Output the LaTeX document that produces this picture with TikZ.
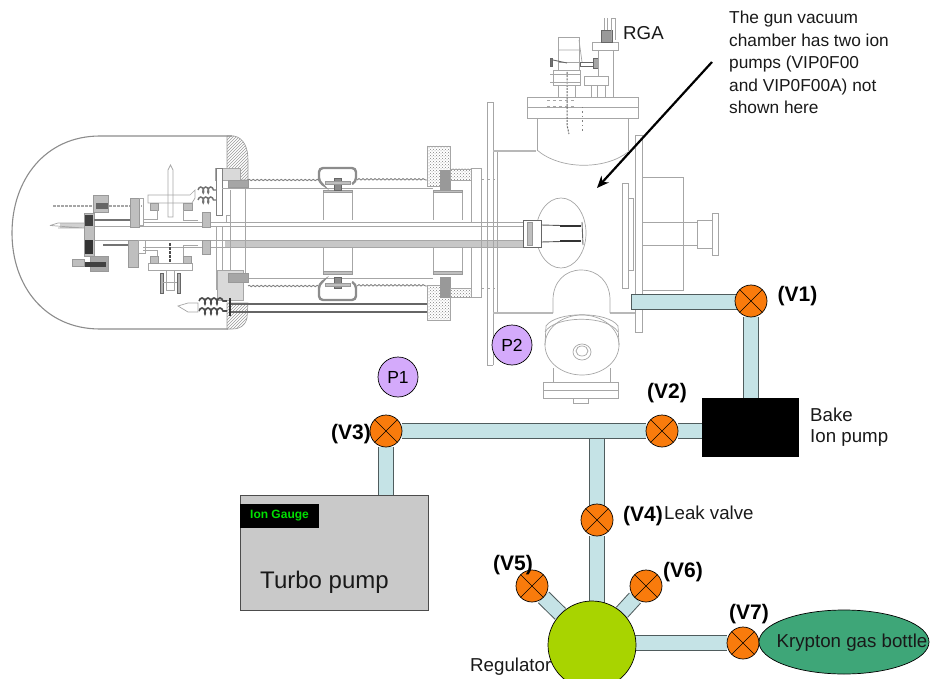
\documentclass[tikz,border=0pt]{standalone}
\usepackage{fontspec}
\setmainfont{Liberation Sans}
\usetikzlibrary{patterns,backgrounds,arrows.meta,decorations.pathmorphing,shapes.geometric}
\definecolor{pipeblue}{HTML}{C5E3E6}
\definecolor{valveor}{HTML}{F97B0C}
\definecolor{reggreen}{HTML}{A8D400}
\definecolor{bottle}{HTML}{3EA678}
\definecolor{pcirc}{HTML}{D4AAFB}
\definecolor{turbo}{HTML}{C9C9C9}
\definecolor{pipeedge}{HTML}{4F5C5D}
\definecolor{igreen}{HTML}{00E000}
\tikzset{
  x=1pt,y=-1pt,
  gl/.style={draw=black!35,line width=0.7pt},
  gd/.style={draw=black!60,line width=0.9pt},
  dk/.style={fill=black!55,draw=black!60,line width=0.5pt},
  gf/.style={fill=black!25,draw=black!40,line width=0.5pt},
  hatchd/.style={pattern=north east lines,pattern color=black!40,draw=black!40,line width=0.6pt},
  stip/.style={pattern=crosshatch dots,pattern color=black!50,draw=black!35,line width=0.5pt},
  wavy/.style={draw=black!50,line width=0.9pt,decorate,decoration={snake,amplitude=0.7pt,segment length=4pt}},
  valve/.style={circle,draw=black,fill=valveor,line width=0.7pt,minimum size=32pt,inner sep=0pt,
    path picture={\draw[line width=0.6pt] (path picture bounding box.north west)--(path picture bounding box.south east)
      (path picture bounding box.south west)--(path picture bounding box.north east);}},
  pipe/.style={draw=pipeedge,line width=1pt,double=pipeblue,double distance=14pt,line cap=butt},
  vlabel/.style={font=\fontsize{21}{24}\selectfont\bfseries,inner sep=0pt},
  tx/.style={font=\fontsize{18.7}{22}\selectfont,inner sep=0pt,text=black!90},
  note/.style={font=\fontsize{17.3}{22.5}\selectfont,inner sep=0pt,text=black!90},
  pcircle/.style={circle,draw=black,fill=pcirc,line width=0.7pt,minimum size=40pt,inner sep=0pt,font=\fontsize{17.5}{20}\selectfont},
}
\begin{document}
\begin{tikzpicture}
\clip (0,0) rectangle (931,679);
% --- main nodes
\node[valve] (v1) at (751,301) {};
\node[valve] (v2) at (662,431) {};
\node[valve] (v3) at (386,431) {};
\node[valve] (v4) at (597,520) {};
\node[valve] (v5) at (532,586) {};
\node[valve] (v6) at (646,586) {};
\node[valve] (v7) at (743,643) {};
\node[circle,draw=black,fill=reggreen,line width=0.7pt,minimum size=88pt,inner sep=0pt] (reg) at (592,645) {};
\node[ellipse,draw=black,fill=bottle,line width=0.7pt,minimum width=170pt,minimum height=64pt,inner sep=0pt] (kr) at (844,642) {};
\node[tx] (krl) at (852,643) {Krypton gas bottle};
\node[draw=black,fill=black,minimum width=96pt,minimum height=58pt,inner sep=0pt] (bake) at (750,427) {};
\node[draw=black!70,fill=turbo,line width=0.8pt,minimum width=188pt,minimum height=115pt,inner sep=0pt] (tp) at (334,552.5) {};
\node[fill=black,minimum width=79pt,minimum height=24pt,inner sep=0pt,text=igreen,font=\fontsize{12}{14}\selectfont\bfseries] (ig) at (279.5,516) {Ion Gauge};
\node[tx,font=\fontsize{24}{26}\selectfont] (tpl) at (324.5,582) {Turbo pump};
\node[pcircle] (p1) at (398,377) {P1};
\node[pcircle] (p2) at (512,345) {P2};
\coordinate (tee) at (597,439);
\coordinate (v1end) at (631,301.5);
% --- labels
\node[vlabel] (lv1) at (797.5,296) {(V1)};
\node[vlabel] (lv2) at (667,393) {(V2)};
\node[vlabel] (lv3) at (351,434) {(V3)};
\node[vlabel] (lv4) at (643,516) {(V4)};
\node[vlabel] (lv5) at (513,565) {(V5)};
\node[vlabel] (lv6) at (683,572) {(V6)};
\node[vlabel] (lv7) at (749,614) {(V7)};
\node[tx,anchor=west] (lleak) at (664,513) {Leak valve};
\node[tx,anchor=west] (lreg) at (470,667) {Regulator};
\node[tx,anchor=west] (lbake) at (810,415) {Bake};
\node[tx,anchor=west] (lion) at (810,438) {Ion pump};
\node[tx,anchor=west] (lrga) at (623,33) {RGA};
\node[note,anchor=north west,align=left] (nt) at (729,11) {The gun vacuum\\chamber has two ion\\pumps (VIP0F00\\and VIP0F00A) not\\shown here};
\begin{pgfonlayer}{background}
% ---- gun chamber drawing
\draw[draw=black!45,line width=1.1pt] (232,136) -- (100,136) .. controls (45,136) and (12,180) .. (12,233) .. controls (12,286) and (45,329) .. (100,329) -- (228,329);
\filldraw[hatchd] (227,136) -- (234,136) .. controls (244,138) and (248,148) .. (248,160) -- (248,180) -- (227,180) -- cycle;
\filldraw[hatchd] (227,303) -- (248,303) -- (247,318) .. controls (245,326) and (240,329) .. (232,329) -- (227,329) -- cycle;
% central tube
\draw[gl] (143,222) -- (523,222) (95,226.5) -- (523,226.5);
\fill[black!22] (225,240) rectangle (523,247);
\draw[gl] (95,240) -- (523,240) (143,247) -- (523,247);
% bellows
\draw[wavy] (248,180) -- (318,180) (357,180) -- (427,180);
\draw[wavy] (248,286) -- (318,286) (357,286) -- (427,286);
\draw[gl] (232,188) -- (433,188) (232,278) -- (433,278);
\draw[gd,line width=1.1pt] (230,304) -- (427,304) (230,312) -- (427,312);
% supports
\foreach \xa/\xb in {323/352,433/462}{
 \draw[gl] (\xa,190) -- (\xa,220) (\xb,190) -- (\xb,220) (\xa,248) -- (\xa,273) (\xb,248) -- (\xb,273);
 \draw[gf] (\xa,190) -- (\xb,190) -- (\xb,192) -- (\xa,192) -- cycle;
 \draw[gf] (\xa,271) -- (\xb,271) -- (\xb,274) -- (\xa,274) -- cycle;
}
% ring clamps
\draw[draw=black!45,line width=2.4pt,rounded corners=4pt] (322,184) -- (319,182) -- (319,168) -- (356,168) -- (356,182) -- (352,184);
\draw[draw=black!45,line width=2.4pt,rounded corners=4pt] (322,282) -- (319,284) -- (319,300) -- (356,300) -- (356,284) -- (352,282);
\draw[dk,fill=black!45] (334,178) rectangle (341,190);
\draw[dk,fill=black!45] (334,277) rectangle (341,288);
\draw[gf] (325,181) rectangle (350,184);
\draw[gf] (325,283) rectangle (350,286);
\filldraw[stip] (427,146) rectangle (450,186);
\filldraw[stip] (427,285) rectangle (450,320);
\draw[gf,fill=black!40] (440,170) rectangle (450,190);
\draw[gf,fill=black!40] (440,277) rectangle (450,297);
\filldraw[stip] (450,169) rectangle (471,180);
\filldraw[stip] (450,288) rectangle (471,297);
\draw[gl] (471,168) -- (481,168) -- (481,297) -- (471,297);
\draw[gl] (471,180) -- (471,222) (471,247) -- (471,288);
\draw[gl,dashed] (481,179) -- (495,179) (481,288) -- (495,288);
% left assembly
\draw[gl,dash pattern=on 3pt off 1pt,line width=2pt] (53,206) -- (142,206);
\draw[gf] (93,195) rectangle (108,212);
\fill[black!60] (96,203) rectangle (108,209);
\draw[gf] (84,213) rectangle (94,256);
\fill[black!75] (85,215) rectangle (93,226);
\fill[black!80] (85,240) rectangle (93,254);
\draw[draw=black!55,line width=1.4pt] (94,220) -- (130,220) (103,245) -- (130,245);
\fill[black!18] (60,223) rectangle (84,228);
\draw[gl] (50,225.5) -- (58,223) -- (84,223) (58,228) -- (84,228) -- (50,225.5);
\draw[gf,fill=black!35] (90,256) rectangle (108,271);
\fill[black!75] (84,262) rectangle (106,267);
\draw[gf] (72,259) rectangle (84,266);
\draw[gf] (130,198) rectangle (139,227);
\draw[gl] (139,198) -- (143,198) -- (143,225) -- (139,225);
\draw[gf] (128,240) rectangle (138,267);
\draw[gl] (138,240) rectangle (145,253);
% stage
\draw[gl] (148,195) -- (190,195) -- (195,190) -- (195,198) -- (192,203) -- (148,203) -- cycle;
\draw[gl] (168,170) -- (170.5,165) -- (173,170) -- (173,217) -- (168,217) -- cycle;
\draw[gf] (150,203) rectangle (158,210);
\draw[gf] (183,203) rectangle (192,210);
\draw[gl] (143,219) -- (157,219) -- (157,210) (183,210) -- (183,220) -- (198,220);
\draw[gl] (148,263) rectangle (192,270);
\draw[gf] (150,256) rectangle (158,263);
\draw[gf] (183,256) rectangle (191,263);
\draw[gl] (143,250) -- (157,250) -- (157,256) (183,256) -- (183,245) -- (198,245);
\draw[draw=black!70,line width=1.6pt,dash pattern=on 3pt off 1pt] (170,243) -- (170,263);
\draw[gd,fill=black!30] (160,273) rectangle (163,293);
\draw[gd,fill=black!30] (177,273) rectangle (180,293);
\draw[gl] (163,282) -- (177,282) (166,270) -- (166,290) -- (174,290) -- (174,270);
% springs
\foreach \yy in {190,200}{
  \draw[draw=black!55,line width=1.4pt,decorate,decoration={coil,aspect=0.5,segment length=5pt,amplitude=3pt}] (198,\yy) -- (216,\yy);
}
\draw[gf] (202,212) rectangle (210,227);
\draw[gf] (202,240) rectangle (210,254);
% central plate assembly
\draw[stip,fill=black!15] (215,168) rectangle (240,180);
\draw[gd,draw=black!50,fill=white] (216,168) rectangle (222,215);
\draw[gl] (222,188) -- (245,188) -- (245,273);
\draw[gl] (230,190) -- (230,273) (216,227) -- (216,290) (222,227) -- (222,290);
\draw[gl] (226,215) rectangle (230,222);
\draw[stip,fill=black!15] (217,270) rectangle (243,300);
\draw[gf,fill=black!35] (228,180) rectangle (248,187);
\draw[gf,fill=black!35] (228,273) rectangle (248,282);
% lower spring
\foreach \yy in {301,311}{
  \draw[draw=black!70,line width=1.6pt,decorate,decoration={coil,aspect=0.5,segment length=6pt,amplitude=3pt}] (199,\yy) -- (227,\yy);
}
\draw[gl] (178,306) -- (188,303) -- (198,303) -- (198,312) -- (188,312) -- cycle;
\draw[draw=black!80,line width=1.4pt] (230,298) -- (230,316);
% plate and chamber
\draw[gl] (487,102) -- (493,102) -- (493,365) (487,102) -- (487,365) -- (493,365);
\draw[gl] (497,152) -- (497,313);
\draw[draw=black!28,line width=2.5pt] (493,313) -- (553,313) (610,313) -- (635,313);
\draw[draw=black!28,line width=2pt] (493,151) -- (536,151);
% right flanges
\draw[gl] (635,135) rectangle (642,332);
\draw[gl] (622,183) rectangle (628,288);
\draw[gl] (628,198) rectangle (633,270);
\draw[gl] (642,177) rectangle (683,290);
\draw[gl] (642,222) -- (697,222) (642,245) -- (697,245);
\draw[gl] (697,220) rectangle (712,248);
\draw[gl] (712,213) rectangle (718,255);
% cross + gun tip
\draw[gl] (561,233) ellipse [x radius=25,y radius=35];
\draw[gd,fill=white] (523,220) rectangle (541,247);
\draw[gf] (527,222) rectangle (532,245);
\draw[draw=black!65,line width=0.9pt] (541,225) -- (581,226) (541,242) -- (581,241);
\draw[draw=black!80,line width=1.8pt] (560,226) -- (581,226) (560,241) -- (581,241);
\draw[gd] (582,222) -- (583,245);
% lower pump
\draw[gl] (553,313) -- (553,300) .. controls (553,282) and (565,270) .. (581,270) .. controls (598,270) and (610,282) .. (610,300) -- (610,313);
\draw[gl,fill=white] (582,345) ellipse [x radius=37,y radius=30];
\draw[gl] (545,332) .. controls (555,315) and (608,315) .. (618,332);
\draw[gl] (546,326) .. controls (556,311) and (608,311) .. (618,326);
\draw[gl] (546,326) -- (545,345) (618,326) -- (619,345);
\draw[gl] (582,352) ellipse [x radius=9,y radius=8];
\draw[gl] (582,351) ellipse [x radius=6,y radius=5];
\draw[gl] (553,368) -- (553,382) (610,368) -- (610,382);
\draw[gl] (543,382) rectangle (618,398);
\draw[gl] (543,390) -- (618,390);
\draw[gl] (573,398) rectangle (588,403);
% upper chamber
\draw[gl] (527,97) rectangle (638,118);
\draw[gl] (527,107) -- (638,107);
\draw[gl] (537,118) -- (537,151) (628,118) -- (628,151);
\draw[gl] (537,150) .. controls (560,170) and (605,170) .. (628,152);
\draw[draw=black!60,line width=1pt,dash pattern=on 2pt off 1.2pt] (567,72) -- (567,125) -- (569,134);
\draw[draw=black!50,line width=0.8pt,dash pattern=on 1.5pt off 3pt] (582,107) -- (582,134);
\draw[gl,dashed] (547,100) -- (574,100) (547,106) -- (574,106);
\draw[gl] (558,37) rectangle (579,62);
\draw[gl] (558,50) -- (579,50) (579,40) -- (582,62);
\draw[gl] (553,70) rectangle (580,85);
\draw[gl] (550,74) -- (580,74) (550,82) -- (580,82);
\draw[gl] (558,62) -- (558,70) (579,62) -- (579,70);
\draw[gl] (558,85) -- (558,97) (575,85) -- (575,97);
\draw[gd] (553,60) -- (567,63);
\draw[dk] (550,58) rectangle (552,66);
\draw[gd] (580,62) rectangle (597,66);
\draw[dk,fill=black!35] (593,58) rectangle (598,68);
\draw[gl] (584,76) rectangle (608,85);
\draw[gl] (591,85) -- (591,97) (597,85) -- (597,97) (605,85) -- (605,97);
\draw[gl] (598,50) -- (598,76) (613,50) -- (613,97);
\draw[gl] (592,42) rectangle (618,50);
\draw[dk,fill=black!40] (601,30) rectangle (612,42);
\draw[gl] (604,18) -- (604,30) (607,18) -- (607,30) (611,18) -- (611,40) (615,18) -- (615,40) (611,18) -- (615,18);
% ---- pipes
\draw[pipe] (v3) -- (v2);
\draw[pipe] (v2) -- (bake.west |- v2);
\draw[pipe] (v1) -- (v1 |- bake.north);
\draw[pipe] (v1end) -- (v1end -| v1);
\draw[draw=pipeedge,line width=1pt] (631,294) -- (631,309);
\draw[pipe] (v3) -- (tp.north -| v3);
\draw[pipe] (tee) -- (tee |- v4);
\draw[pipe] (v4) -- (v4 |- reg);
\draw[pipe] (v5) -- (reg);
\draw[pipe] (v6) -- (reg);
\draw[pipe] (reg.center |- v7) -- (v7);
\end{pgfonlayer}
% arrow
\coordinate (arrstart) at (712,62);
\coordinate (arrend) at (597,188);
\draw[line width=2.2pt,-{Stealth[length=12pt,width=10pt]}] (arrstart) -- (arrend);
\end{tikzpicture}
\end{document}
